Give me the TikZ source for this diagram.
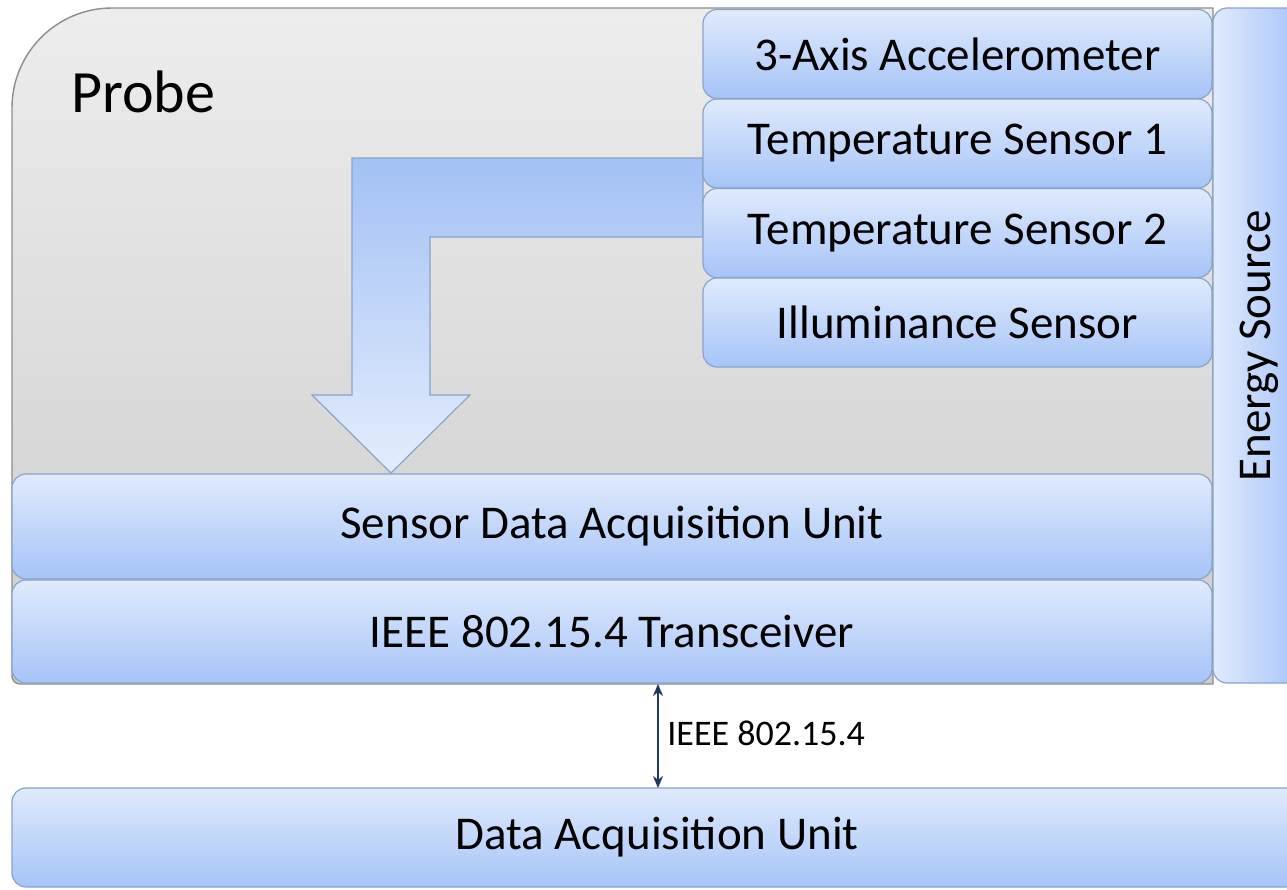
\documentclass[tikz,border=0pt]{standalone}
\usepackage{fontspec}
\setmainfont{Carlito}
\usetikzlibrary{arrows.meta}
\definecolor{boxtop}{HTML}{E0EAFC}
\definecolor{boxbot}{HTML}{A6C4F8}
\definecolor{boxline}{HTML}{8AA3C8}
\definecolor{graytop}{HTML}{EDEDED}
\definecolor{graybot}{HTML}{CDCDCD}
\definecolor{grayline}{HTML}{8C8C8C}
\definecolor{arrtop}{HTML}{A3C1F5}
\definecolor{arrbot}{HTML}{E4EDFD}
\definecolor{navy}{HTML}{1F3864}
\tikzset{
  unitbox/.style={draw=boxline, line width=0.6pt, rounded corners=7pt,
    top color=boxtop, bottom color=boxbot, inner sep=0pt, font=\fontsize{23.5}{28}\selectfont},
  sensorbox/.style={unitbox, minimum width=254.5pt, minimum height=44.5pt},
  widebox/.style={unitbox, minimum width=600pt},
}
\begin{document}
\begin{tikzpicture}[x=0.5pt,y=-0.5pt]
\useasboundingbox (0,0) rectangle (1287,890);
% probe background
\path[draw=grayline, line width=0.7pt, top color=graytop, bottom color=graybot]
  (12,676) -- (12,108) arc[start angle=180, end angle=90, radius=50pt]
  -- (1213,8) -- (1213,684) -- (20,684) arc[start angle=270, end angle=180, radius=4pt] -- cycle;
\node[anchor=west, font=\fontsize{30}{36}\selectfont] (probe) at (64,92) {Probe};
% bent block arrow
\path[draw=boxline, line width=0.6pt, top color=arrtop, bottom color=arrbot]
  (703,158) -- (352,158) -- (352,395) -- (312,395) -- (391,473) -- (470,395)
  -- (430,395) -- (430,237) -- (703,237) -- cycle;
% sensors
\node[sensorbox] (acc) at (957.5,54) {3-Axis Accelerometer};
\node[sensorbox] (t1) at (957.5,143.5) {Temperature Sensor 1};
\node[sensorbox] (t2) at (957.5,233) {Temperature Sensor 2};
\node[sensorbox] (ill) at (957.5,322.5) {Illuminance Sensor};
% units
\node[widebox, minimum height=52.5pt] (sdau) at (612,526.5) {Sensor Data Acquisition Unit};
\node[widebox, minimum height=51.5pt] (tr) at (612,631.5) {IEEE 802.15.4 Transceiver};
% energy source
\node[draw=boxline, line width=0.6pt, rounded corners=7pt, left color=boxtop, right color=boxbot,
  minimum width=44.5pt, minimum height=337.5pt, inner sep=0pt] (es) at (1257.5,345.5) {};
\node[rotate=90, font=\fontsize{23.5}{28}\selectfont] (estext) at (1259,346) {Energy Source};
% data acquisition unit
\node[unitbox, minimum width=645pt, minimum height=49.5pt] (dau) at (657,837.5) {Data Acquisition Unit};
% link
\coordinate (la) at (658,684);
\coordinate (lb) at (658,788);
\draw[navy, line width=1pt, {Stealth[length=6pt,width=5pt]}-{Stealth[length=6pt,width=5pt]}] (la) -- (lb);
\node[anchor=west, font=\fontsize{18}{22}\selectfont, inner sep=0pt] (lbl) at (667,733) {IEEE 802.15.4};
\end{tikzpicture}
\end{document}
